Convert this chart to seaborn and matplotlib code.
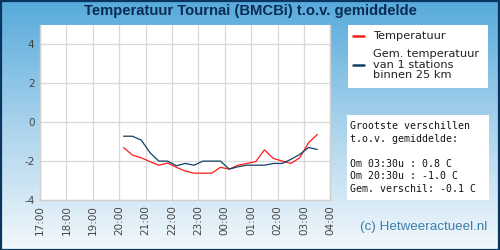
import numpy as np
import pandas as pd
import matplotlib
matplotlib.use("Agg")
import matplotlib.pyplot as plt
import matplotlib.colors as mcolors
import seaborn as sns

# ---- data ----
times = ["20:10", "20:30", "20:50", "21:10", "21:30", "21:50", "22:10", "22:30",
         "22:50", "23:10", "23:30", "23:50", "00:10", "00:30", "00:50", "01:10",
         "01:30", "01:50", "02:10", "02:30", "02:50", "03:10", "03:30"]
temperatuur = [-1.30, -1.69, -1.83, -2.03, -2.21, -2.10, -2.32, -2.51,
               -2.62, -2.62, -2.62, -2.32, -2.41, -2.21, -2.12, -2.03,
               -1.42, -1.86, -2.00, -2.12, -1.83, -1.06, -0.63]
gemiddelde = [-0.72, -0.72, -0.92, -1.57, -2.00, -2.00, -2.24, -2.12,
              -2.21, -2.00, -2.00, -2.00, -2.41, -2.29, -2.21, -2.21,
              -2.21, -2.12, -2.12, -1.91, -1.66, -1.30, -1.40]
tick_labels = ["17:00", "18:00", "19:00", "20:00", "21:00", "22:00",
               "23:00", "00:00", "01:00", "02:00", "03:00", "04:00"]
title = "Temperatuur Tournai (BMCBi) t.o.v. gemiddelde"
legend_labels = ["Temperatuur", "Gem. temperatuur\nvan 1 stations\nbinnen 25 km"]
info_text = ("Grootste verschillen\nt.o.v. gemiddelde:\n\n"
             "Om 03:30u : 0.8 C\nOm 20:30u : -1.0 C\nGem. verschil: -0.1 C")
credit = "(c) Hetweeractueel.nl"


def to_hours(t):
    h, m = map(int, t.split(":"))
    v = h + m / 60.0
    if v < 12:
        v += 24
    return v


hours = [to_hours(t) for t in times]
df = pd.DataFrame({
    "uur": hours * 2,
    "waarde": temperatuur + gemiddelde,
    "reeks": ["t"] * len(hours) + ["g"] * len(hours),
})

sns.set_style("white")
plt.rcParams["font.family"] = ["DejaVu Sans"]

fig = plt.figure(figsize=(5, 2.5), dpi=100)

# gradient background
bg = fig.add_axes([0, 0, 1, 1], zorder=-10)
cmap = mcolors.LinearSegmentedColormap.from_list(
    "bg", ["#56aadb", "#a9d3ec", "#f3f8fc"])
grad = np.linspace(0, 1, 256).reshape(-1, 1)
bg.imshow(grad, aspect="auto", cmap=cmap, extent=[0, 1, 0, 1], origin="upper")
bg.set_xlim(0, 1)
bg.set_ylim(0, 1)
bg.axis("off")
# border
bg.add_patch(plt.Rectangle((0.001, 0.002), 0.997, 0.995, fill=False,
                           edgecolor="#0b3561", lw=1.6,
                           transform=bg.transAxes))

ax = fig.add_axes([0.08, 0.2, 0.581, 0.7])
ax.set_facecolor("white")
sns.lineplot(data=df, x="uur", y="waarde", hue="reeks",
             palette={"t": "#ff1a1a", "g": "#123f66"},
             linewidth=0.9, ax=ax, legend=False)
ax.set_xlim(17, 28)
ax.set_ylim(-4, 5)
ax.set_xticks(range(17, 29))
ax.set_xticklabels(tick_labels, rotation=90, fontsize=7.5, color="#444444")
ax.set_yticks([-4, -2, 0, 2, 4])
ax.set_yticklabels(["-4", "-2", "0", "2", "4"], fontsize=7.5, color="#444444")
ax.tick_params(axis="both", length=0, pad=4)
ax.grid(True, color="#d8d8d8", linewidth=0.9)
ax.set_xlabel("")
ax.set_ylabel("")
for s in ax.spines.values():
    s.set_color("#cfcfcf")
    s.set_linewidth(1.0)
ax.spines["top"].set_visible(False)

fig.text(0.5, 0.954, title, ha="center", va="center", fontsize=10.7,
         fontweight="bold", color="#0b2c52", family="Liberation Sans")

# legend box
fig.patches.append(plt.Rectangle((348 / 500, 1 - 88 / 250), 140 / 500, 63 / 250,
                                 transform=fig.transFigure, facecolor="white",
                                 edgecolor="none", zorder=1))
fig.add_artist(plt.Line2D([353 / 500, 364 / 500], [1 - 36 / 250] * 2,
                          color="#ff1a1a", lw=1.8, transform=fig.transFigure,
                          zorder=2))
fig.add_artist(plt.Line2D([353 / 500, 364 / 500], [1 - 65 / 250] * 2,
                          color="#123f66", lw=1.8, transform=fig.transFigure,
                          zorder=2))
fig.text(373 / 500, 1 - 36 / 250, legend_labels[0], ha="left", va="center",
         fontsize=8.2, color="#222222", zorder=3)
fig.text(373 / 500, 1 - 64.5 / 250, legend_labels[1], ha="left", va="center",
         fontsize=8.2, color="#222222", linespacing=1.1, zorder=3)

# info box
fig.patches.append(plt.Rectangle((347 / 500, 1 - 200 / 250), 142 / 500, 85 / 250,
                                 transform=fig.transFigure, facecolor="white",
                                 edgecolor="none", zorder=1))
fig.text(350 / 500, 1 - 121 / 250, info_text, ha="left", va="top",
         fontsize=7.1, family="DejaVu Sans Mono", color="#111111",
         linespacing=1.32, zorder=3)

fig.text(487 / 500, 1 - 227 / 250, credit, ha="right", va="center",
         fontsize=9.6, color="#3a7fab", family="Liberation Sans")

fig.savefig("out.png", dpi=100)
